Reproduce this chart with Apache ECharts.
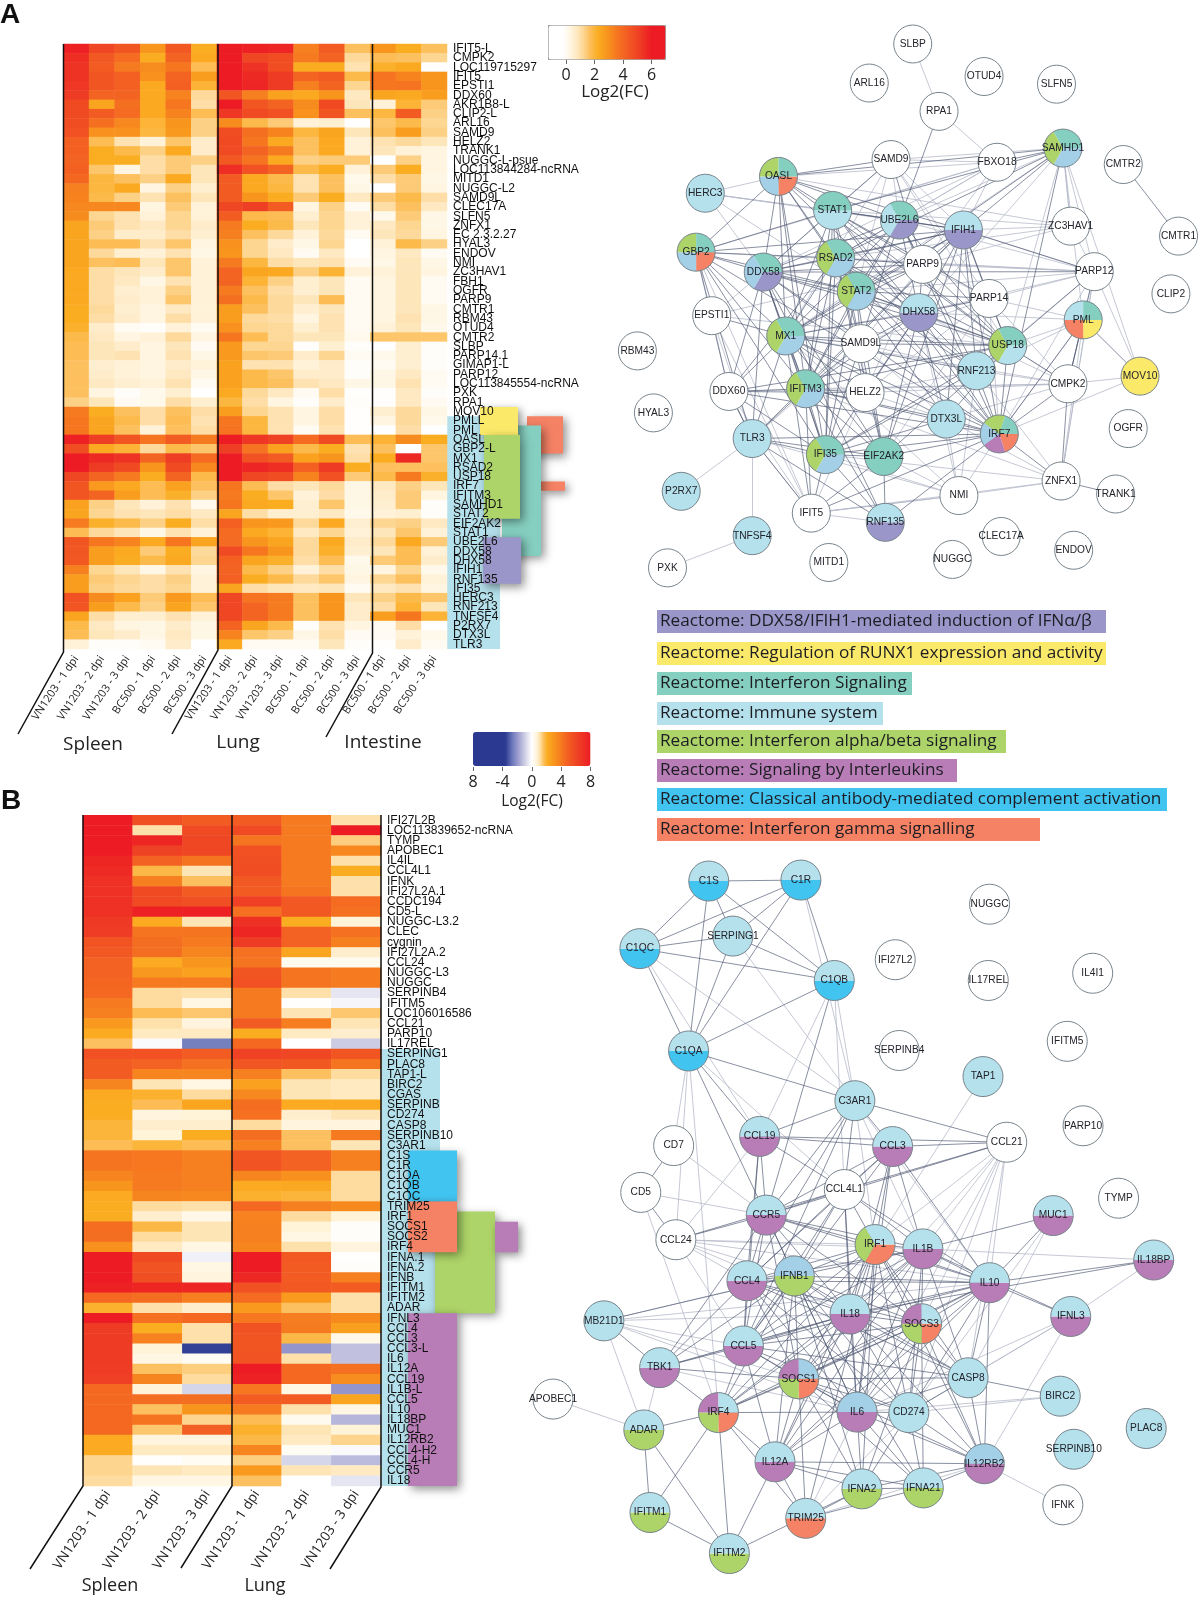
<!DOCTYPE html>
<html>
<head>
<meta charset="utf-8">
<style>html,body{margin:0;padding:0;background:#fff}#c{width:1198px;height:1597px}</style>
<script src="https://cdn.jsdelivr.net/npm/echarts@6/dist/echarts.min.js"></script>
</head>
<body>
<div id="c"></div>
<script>
// ---------- heat map A ----------
const colsA = ['VN1203 - 1 dpi','VN1203 - 2 dpi','VN1203 - 3 dpi','BC500 - 1 dpi','BC500 - 2 dpi','BC500 - 3 dpi','VN1203 - 1 dpi','VN1203 - 2 dpi','VN1203 - 3 dpi','BC500 - 1 dpi','BC500 - 2 dpi','BC500 - 3 dpi','BC500 - 1 dpi','BC500 - 2 dpi','BC500 - 3 dpi'];
const genesA = ['IFIT5-L','CMPK2','LOC119715297','IFIT5','EPSTI1','DDX60','AKR1B8-L','CLIP2-L','ARL16','SAMD9','HELZ2','TRANK1','NUGGC-L-psue','LOC113844284-ncRNA','MITD1','NUGGC-L2','SAMD9L','CLEC17A','SLFN5','ZNFX1','EC 2.3.2.27','HYAL3','ENDOV','NMI','ZC3HAV1','FBH1','OGFR','PARP9','CMTR1','RBM43','OTUD4','CMTR2','SLBP','PARP14.1','GIMAP1-L','PARP12','LOC113845554-ncRNA','PXK','RPA1','MOV10','PMLL','PML','OASL','GBP2-L','MX1','RSAD2','USP18','IRF7','IFITM3','SAMHD1','STAT2','EIF2AK2','STAT1','UBE2L6','DDX58','DHX58','IFIH1','RNF135','IFI35','HERC3','RNF213','TNFSF4','P2RX7','DTX3L','TLR3'];
const valuesA = [
[5.9,5,4.6,3,4.5,2.4,6,5.9,5.8,3.5,4.4,1.8,3,2.4,1.8],
[5.6,4.5,4,2.4,4.2,2.5,6,5,4.8,3.6,4.2,1.3,1.9,1.8,1.4],
[5.5,4.4,3.6,3.2,3.7,1.9,6,5.5,4.8,2.4,2.4,1.1,2.3,2.5,0],
[5.5,4.6,4.3,3.1,4.2,2.8,6,5.7,5.3,4.2,4.4,2,3.8,3.4,3],
[5.4,4.6,4.3,2.5,4.3,2.2,6,5.8,5.3,3.5,4.2,1.4,3.7,3.8,3],
[5.3,4.2,4.2,2.5,3.4,1.3,4.6,3.5,2.7,2.5,3,.9,2.6,2.5,2.8],
[4.9,2.6,3.9,2.5,3.7,1.2,6,4.6,4.2,3.2,4.9,1,.6,2.2,1.6],
[4.9,4.4,4,2.5,3.4,1.9,5.4,4.9,4.7,3.1,4.6,1.8,2.1,4.4,1.5],
[4.8,3.9,3.3,2.2,3,1.5,3.2,2,1.6,.6,.7,0,1.7,2,1.4],
[4.7,3.1,3.1,2.1,2.9,1.5,4.8,3.9,3.4,2.1,2.6,1,1.8,2.8,1.5],
[4.3,1.9,1.1,.6,1.7,.8,4.9,3.7,2.5,1.8,2.5,.6,1.1,1.3,1],
[4.3,2.4,2,1.5,2.5,.8,4.9,4.2,3.6,1.8,2.5,.6,1,.6,.5],
[4.2,2.4,2.4,1.2,1.6,1.5,4.5,3.8,2.5,1.5,1.6,1.6,0,1.5,.5],
[4.3,1.7,.5,1.2,1.6,1,5.6,4.7,4.2,2,2.4,.6,1.6,2.4,.5],
[4.1,2.1,1.8,1.5,2.5,1,4.4,2.5,2,1.1,1.8,.3,1.2,1.6,.4],
[3.5,2.1,2.5,.5,1.5,.7,4.4,2.5,2.1,1.1,1.8,.4,0,1.6,.5],
[3.4,2,1.5,1.1,1.8,1,4.4,3,2.4,1.6,2.4,.9,1.6,2,1.2],
[3.3,3.3,3.3,.5,1.6,.6,5,5.2,4.4,.5,1.5,.2,1.2,1.8,.9],
[3.2,1.4,1.1,.6,1.4,.6,4.4,2,1.9,.7,1.4,.6,.3,1.6,.4],
[2.6,1.6,1.1,.9,1.4,.8,3.6,2.4,2,1,1.4,.6,.9,1.4,.4],
[2.6,1.5,.8,.8,1.2,.7,3.5,1.8,1.3,.6,1.3,.2,1,1.3,.5],
[2.6,1.9,1.9,1.1,1.7,.5,3.1,1.4,.8,.4,1.4,0,.6,2,1.5],
[2.6,1.3,.7,.6,1.1,.4,3,1.4,.9,.2,.9,0,.5,.9,.2],
[2.6,1.8,1.9,1,1.7,.6,3.6,2.1,1.2,1,1.1,.2,.4,1,.4],
[2.5,1.2,1,.8,1.7,.6,4.2,2.6,2.5,1.5,2.2,.6,.6,1,.5],
[2.5,1.2,.9,.4,1.1,.6,4.2,2.2,1.5,.7,1,.2,.5,1,.2],
[2.5,1.2,.7,.6,1.5,.6,3.6,1.8,1.2,.7,1,.2,.5,1,.2],
[2.5,1.2,.8,.6,1.7,.6,3.9,2,1.3,1,1.9,.2,.5,1,.2],
[2.4,1.3,.7,.5,.9,.6,2.8,1.8,1.3,.7,1,.2,.5,1,.4],
[2.4,1.2,.8,.5,1.2,.6,2.8,1.3,1.2,.5,1.1,.2,.5,1.1,.4],
[2.3,.8,.2,.1,.6,.2,3.1,1.4,1.3,.7,1.1,.2,.6,1,.3],
[2,.9,.5,.6,1.3,.5,3.7,1.9,1.3,1,1,.3,1.7,1.7,1.7],
[1.9,1,.8,.5,1,.2,2.9,1.4,1.4,.1,.7,.1,0,.7,.1],
[1.9,1,1.1,.5,1.1,.4,2.9,1.7,1.6,.8,1.4,.2,.3,.7,.1],
[1.8,.7,.6,.5,.8,.6,2.7,1.1,1.1,.6,.8,.1,.2,.7,.1],
[1.8,.8,.6,.5,.9,.4,2.7,2,1.7,.8,.8,.1,.4,.9,.2],
[1.8,.9,.7,.6,1.1,.2,2.7,2,1.8,1.1,.9,.4,.4,1.1,.2],
[1.8,.5,.1,.3,.7,0,2.5,1.3,.9,.2,1.2,.05,.05,.9,.1],
[1.5,1,.2,.3,1.2,.7,2.1,1.2,.5,.1,.8,.1,.05,.9,.2],
[3.6,2.4,1.8,1.2,1.8,1.2,2.8,1.4,1.1,.5,1.2,.05,.7,1.3,.4],
[3.7,2.6,2,1.2,1.9,1.1,3.7,2.1,1.1,.5,1.2,.05,.5,1.3,.3],
[3.7,2.6,1.8,.6,1.8,1.2,3.8,2.1,1.1,.2,1.1,.05,0,1.2,0],
[5.9,5.2,4.6,3.8,4.4,3.6,6,5.4,5.1,4,4.9,1.9,2.2,3.2,2.4],
[4.8,2.5,2.2,1.3,2,1.7,5.2,3.8,2.7,2,2.4,1.1,1.8,0,1.7],
[6,5.7,5.5,4.2,5.2,4,6,4.7,4.4,2.7,3,1.2,2.4,5.7,1.7],
[6,5.3,4.9,3,4.9,3.3,6,5.8,5.6,4.3,5.3,2.4,1.8,1.8,1.8],
[5,4.2,3.6,2.4,4.2,2,6,5,4.8,3.4,4.7,1.6,2,3.6,2.3],
[4.6,2.9,2.5,1.9,2.7,1.8,3.7,1.9,1.2,1,1.3,.4,.9,1.5,1],
[4.6,4.2,2.8,1.9,2.3,1.5,3.6,2.4,1.7,.6,1.2,.4,.8,1.6,.5],
[2.7,1.5,1,.6,1.1,.3,3.7,2.5,2.4,.7,1.7,.4,.7,1.6,.1],
[2.6,1.4,1.1,1,1.2,.9,2.6,1.2,.7,.7,.9,.3,.6,.7,.1],
[3.6,2.3,2,1.5,2.4,1.2,4.3,3,2.9,1.3,2.5,.7,1.4,1.5,.9],
[1.9,1.3,1,.4,1.1,.6,4,2.5,2.2,.9,1.4,.6,1,1.7,.6],
[4.6,3.7,3.4,2.5,3.7,2.6,4,3,2.6,1.3,2.5,.8,1.3,2.5,1.6],
[4.6,2.8,2.5,1.6,2.4,1.3,4.9,3.7,3,1.3,2.3,.7,1,1.9,.6],
[4.5,2.8,2.4,2,2.5,1.4,4.3,2.6,2.3,1.2,1.9,.3,1.6,1.9,.8],
[3.5,1.4,1,.4,1.1,.5,4.2,2,1.5,.6,1.2,.4,.5,1.4,.3],
[2.8,1.6,1.4,1.2,1.5,.6,4.3,2.4,2,1.3,1.7,.5,1.4,1.8,.6],
[2.8,1.5,1.3,1.2,1.4,.6,2.6,1.2,1,.9,1,.2,.9,1.1,.5],
[4.7,3.2,2.7,1.6,2.9,1.9,5,3.8,3.6,1.8,3,1,1.5,2,1.7],
[4.6,2.8,2,1.5,2.6,1.7,5,4.2,3.6,1.8,3,.8,1.2,2.2,1],
[2.6,1.2,.7,.7,1.1,.6,5,4.2,3.6,1.8,3,.8,2.8,3.7,2.2],
[2,.9,.5,.4,.8,.4,4.2,2.6,2,.1,1.1,.5,.2,1.2,0],
[1.9,1,.8,.4,.9,.4,3.4,1.7,1.5,.4,1.2,.2,.2,.6,.3],
[.6,.1,.1,.2,.8,0,2.5,.2,.2,.2,1,.1,.05,.8,.2]
];
// ---------- heat map B ----------
const colsB = ['VN1203 - 1 dpi','VN1203 - 2 dpi','VN1203 - 3 dpi','VN1203 - 1 dpi','VN1203 - 2 dpi','VN1203 - 3 dpi'];
const genesB = ['IFI27L2B','LOC113839652-ncRNA','TYMP','APOBEC1','IL4IL','CCL4L1','IFNK','IFI27L2A.1','CCDC194','CD5-L','NUGGC-L3.2','CLEC','cygnin','IFI27L2A.2','CCL24','NUGGC-L3','NUGGC','SERPINB4','IFITM5','LOC106016586','CCL21','PARP10','IL17REL','SERPING1','PLAC8','TAP1-L','BIRC2','CGAS','SERPINB','CD274','CASP8','SERPINB10','C3AR1','C1S','C1R','C1QA','C1QB','C1QC','TRIM25','IRF1','SOCS1','SOCS2','IRF4','IFNA.1','IFNA.2','IFNB','IFITM1','IFITM2','ADAR','IFNL3','CCL4','CCL3','CCL3-L','IL6','IL12A','CCL19','IL1B-L','CCL5','IL10','IL18BP','MUC1','IL12RB2','CCL4-H2','CCL4-H','CCR5','IL18'];
const valuesB = [
[8,5.6,5,5,4,1.1],[8,1.1,5.8,5.8,4,8],[8,7.5,6,4.2,4,1.4],[8,6.2,6,5.5,4,3.5],[7.5,4.8,4.2,5.6,4,1.1],[7.3,1.8,1,5.7,4,2.1],
[7,3.8,1.6,5.2,4,1.1],[7,5.8,5,5,4.2,1.1],[7,5.8,5.6,6.3,5.2,4.5],[7,7.8,7.8,4.3,5.2,4.3],[6.6,2.2,1,7,2.1,.7],[6.4,4.2,4.2,7.5,4.8,4.3],
[5.4,4.4,4,6.5,4.8,3.8],[5.2,4.4,3.6,4.3,2.4,.8],[4.8,2.2,3,4.2,.3,.3],[4.8,2.9,2.5,5.3,4.2,4],[4.7,4,4,5.5,4.2,4],[4.6,1.2,1.1,4,1.1,-.5],
[4,1.2,.5,4,.05,-.2],[3.8,1.7,1.5,4,1,1.5],[2.8,1.1,.6,5,3.9,1],[2.2,.9,.9,2.1,.9,.8],[1.6,-.1,-2.5,4.6,0,-1],
[5.5,5.5,5,6.2,6,5.3],[5,4.8,4.3,5.3,5.2,4.2],[5,3.6,3.6,3.8,1.6,1.2],[3.6,1,.5,2.5,1,.9],[2.2,2,1.2,3.5,1,.9],[2.1,1.7,2.4,4.4,2.2,2.2],
[2.1,.6,.7,4.3,.8,1],[1.9,.8,.8,1.2,.6,.6],[1.9,.7,2.1,4.4,1.6,4],[1.7,1.9,1.7,3.8,1.6,1],
[4.2,4.1,3.8,5.3,4.8,3.8],[4.2,4.1,3.8,5.4,4.8,3.8],[3.6,4,3.8,3.6,3.2,1.2],[3,4,3.8,2.2,2.3,1.2],[2.2,3.6,3.5,2,1.9,1.2],
[2.1,1.2,1.1,4.6,3.8,3.4],[2.1,.8,.4,3.7,1.2,.7],[4.4,1.8,1,3.8,.7,.1],[4.4,1.2,1,3.8,.5,.1],[3.2,.9,.5,3.6,1.1,.6],
[8,5.8,-.3,8,5.2,.05],[8,5.4,.5,8,5,.1],[8,5.6,.6,7.4,5,3.8],[7.8,7.5,7.5,5.5,5.2,5],[4.6,4.4,3.8,4.5,2.8,1.1],[2,1.1,.8,2.8,1.6,1.1],
[8,4.3,4.6,4.1,3.9,3.4],[6.5,2.1,1.1,5.5,4,2.6],[6.5,3.7,1.1,5.3,1.8,.4],[6.5,.7,-3.5,5.3,-2,-1.2],[6.5,.5,.2,5.4,1.1,-1.2],[6.4,1.6,1.4,8,4.6,4.3],
[6.3,3.6,1.2,7.8,4.6,3.3],[4.6,.7,-.8,4.1,.5,-2],[4.6,4.4,4.4,5,5,2.4],[4.6,1.6,3,4,1.1,.5],[4.6,4.2,1.3,1.7,.3,-1.4],[4.6,1.5,4.9,2,1,.7],
[2.2,.6,.6,1.8,.9,1.3],[2.2,.9,.9,3.6,.2,-.1],[1.3,.05,.2,1.4,-.8,-1.3],[1.3,1,.9,2.8,1,.9],[1.2,.5,.5,1.6,0,-.5]
];
// ---------- pathways ----------
const legendTexts = ['Reactome: DDX58/IFIH1-mediated induction of IFNα/β','Reactome: Regulation of RUNX1 expression and activity','Reactome: Interferon Signaling','Reactome: Immune system','Reactome: Interferon alpha/beta signaling','Reactome: Signaling by Interleukins','Reactome: Classical antibody-mediated complement activation','Reactome: Interferon gamma signalling'];
const C = {P:'#9b96c9',Y:'#fbe969',T:'#85cfc0',L:'#b5e1ec',G:'#add468',M:'#b87cb6',K:'#42c4f1',S:'#f58265',B:'#a3d0e6',W:'#ffffff'};
const legendKeys = ['P','Y','T','L','G','M','K','S'];
const blocksA = [['PMLL','TLR3','L'],['PMLL','GBP2-L','S'],['IRF7','IRF7','S'],['PML','DDX58','T'],['MOV10','PML','Y'],['OASL','STAT2','G'],['UBE2L6','RNF135','P']];
const blocksB = [['SERPING1','IL18','L'],['IRF1','ADAR','G'],['SOCS1','IRF4','M'],['C1S','C1QC','K'],['TRIM25','IRF4','S'],['IFNL3','IL18','M']];
// ---------- networks: node name -> pathway slices (clockwise from 3 o'clock); others are white ----------
const slicesA = {OASL:'SBGT',GBP2:'SBGT',HERC3:'L',STAT1:'LT',UBE2L6:'PLT',IFIH1:'PL',RSAD2:'BGT',DDX58:'PBT',STAT2:'BGT',MX1:'BGT',IFITM3:'BGT',IFI35:'BGT',SAMHD1:'BGT',USP18:'LGT',DHX58:'PL',RNF135:'PL',RNF213:'L',DTX3L:'L',TLR3:'L',P2RX7:'L',TNFSF4:'L',EIF2AK2:'T',PML:'YSLT',MOV10:'Y',IRF7:'SMBGT'};
const slicesB = {C1S:'KL',C1R:'KL',C1QC:'KL',C1QB:'KL',C1QA:'KL',SERPING1:'L',TAP1:'L',C3AR1:'L',CCL19:'ML',CCL3:'ML',CCR5:'ML',CCL4:'ML',IL18:'ML',CCL5:'ML',TBK1:'ML',IL1B:'ML',IL10:'ML',MUC1:'ML',IL18BP:'ML',IFNL3:'ML',IL12A:'ML',IL6:'MB',IL12RB2:'MB',IFNB1:'GB',IRF1:'SGL',SOCS3:'SGML',SOCS1:'SGMB',IRF4:'SGML',ADAR:'GL',IFITM1:'GL',IFITM2:'GL',IFNA2:'GL',IFNA21:'GL',TRIM25:'SL',MB21D1:'L',CASP8:'L',CD274:'L',BIRC2:'L',PLAC8:'L',SERPINB10:'L'};
const strongA = {
OASL:'STAT1 DDX58 RSAD2 MX1 IFITM3 STAT2 UBE2L6 IFIH1 GBP2 IFI35 DHX58 SAMHD1 USP18',
GBP2:'DDX58 RSAD2 MX1 IFITM3 IFIH1 STAT1 STAT2 TLR3 IFI35 IRF7',
DDX58:'RSAD2 STAT1 STAT2 MX1 IFITM3 IFIH1 UBE2L6 DHX58 IRF7 TLR3 USP18 IFI35 EIF2AK2 DDX60 RNF135 PARP9 SAMD9L PARP12',
STAT1:'RSAD2 STAT2 MX1 UBE2L6 IFIH1 IRF7 DHX58 IFITM3 USP18 IFI35 PARP9 EIF2AK2 SAMHD1 PARP14',
UBE2L6:'RSAD2 STAT2 IFIH1 DHX58 MX1 USP18 IRF7 IFITM3 RNF213 PARP9 IFI35 RPA1',
IFIH1:'RSAD2 STAT2 MX1 DHX58 USP18 IRF7 RNF213 PARP9 PARP14 PARP12 TLR3 SAMHD1 DTX3L EIF2AK2 IFITM3',
RSAD2:'STAT2 MX1 DHX58 USP18 IRF7 IFITM3 PARP9 RNF213 IFI35 SAMD9L EIF2AK2 DDX60 HELZ2',
STAT2:'MX1 DHX58 USP18 IRF7 IFITM3 IFI35 PARP9 PARP14 RNF213 EIF2AK2 DTX3L SAMD9L',
MX1:'USP18 IRF7 IFITM3 IFI35 TLR3 DDX60 SAMD9L HELZ2 EIF2AK2 DHX58 RNF213 DTX3L EPSTI1 PARP9 IFIT5',
DHX58:'USP18 IRF7 PARP9 RNF213 IFI35 EIF2AK2 DTX3L PARP14 SAMD9L IFITM3 HELZ2',
USP18:'IRF7 RNF213 DTX3L IFITM3 IFI35 PARP14 PARP12 CMPK2 PARP9 SAMD9L EIF2AK2 DDX60',
IRF7:'RNF213 IFITM3 IFI35 TLR3 EIF2AK2 DTX3L CMPK2 ZNFX1 PML RNF135 DDX60 IFIT5',
IFITM3:'IFI35 TLR3 DDX60 EIF2AK2 SAMD9L HELZ2 IFIT5 DTX3L RNF135',
IFI35:'EIF2AK2 TLR3 DDX60 IFIT5 DTX3L RNF213 RNF135',
TLR3:'DDX60 EIF2AK2 IFIT5 RNF135',
SAMHD1:'FBXO18 RSAD2 STAT2 IRF7',
ZNFX1:'TRANK1 CMPK2',CMPK2:'PARP12 PML',CMTR2:'CMTR1',PML:'MOV10',DDX60:'GBP2 HELZ2 TLR3',EIF2AK2:'RNF135 IFIT5',SAMD9:'OASL STAT1 PARP9'
};
const weakA = {
SLBP:'RPA1',RPA1:'FBXO18',
SAMD9:'SAMHD1 FBXO18 UBE2L6 IFIH1 STAT2 PARP14 USP18 DDX58 MX1',
FBXO18:'OASL IFIH1 PARP9 GBP2 DDX58 UBE2L6 STAT1 RSAD2',
ZC3HAV1:'IFIH1 PARP9 PARP12 RSAD2 SAMHD1 STAT1 OASL',
SAMHD1:'PARP12 ZC3HAV1 MOV10 PML USP18 UBE2L6 DHX58 MX1',
PARP12:'GBP2 IFIH1 RSAD2 STAT2 DHX58 UBE2L6 PARP9 PARP14 IRF7 PML MOV10 RNF213 ZNFX1',
PARP14:'PARP9 MX1 IRF7 RNF213 SAMD9L EIF2AK2 PML',
PML:'USP18 CMPK2 IRF7 RNF213 ZNFX1 DHX58',
MOV10:'CMPK2 IRF7',
CMPK2:'RNF213 USP18 DTX3L DHX58 MX1 DDX60 IFITM3 HELZ2 PARP14',
ZNFX1:'PARP12 IFIT5 NMI RNF213 DTX3L IFI35 IFITM3',
NMI:'DTX3L IFI35 IRF7 EIF2AK2 DHX58 IFIT5 RNF213 MX1',
IFIT5:'TLR3 DDX60 NMI GBP2 RNF135 HELZ2',
HERC3:'OASL STAT1 UBE2L6 IFIH1 DDX58 STAT2',
EPSTI1:'GBP2 DDX58 TLR3 DDX60 PARP9 USP18 IFIT5',
TLR3:'P2RX7 TNFSF4 NMI SAMD9L',TNFSF4:'PXK',
HELZ2:'PARP9 DTX3L PARP14 RNF213',SAMD9L:'PARP9 DTX3L RNF213 HELZ2'
};
const strongB = {
C1S:'C1R C1QC SERPING1 C1QA C1QB',C1R:'C1QC SERPING1 C1QA C1QB',C1QC:'SERPING1 C1QA C1QB',C1QA:'SERPING1 C1QB C3AR1 CCL19 CCR5',C1QB:'SERPING1 CCR5',
C3AR1:'CCL19 CCL3 CCL4L1 CCR5 CCL4 CCL5 CCL21',CCL19:'CCL3 CCL21 CCL4L1 CCR5 CCL4 CCL5',CCL3:'CCL21 CCL4L1 CCR5 CCL4 CCL5 IL1B IL10 IL6 IL18 IRF1',CCL21:'CCL4L1 CCR5',
CCL4L1:'CCR5 CCL4 CCL5 IL10 IL1B IRF1 CCL24 IL18 IL6 IFNB1',CCR5:'CCL4 CCL5 IL10 IL1B IL6 IRF1 IL18 CCL24 IFNB1 SOCS3 TBK1 SOCS1',
CCL4:'IFNB1 CCL5 IL18 IL1B IL10 IL6 IRF1 SOCS3 SOCS1 CASP8 CD274 TBK1',IFNB1:'IRF1 IL1B IL10 IL18 CCL5 SOCS3 SOCS1 IRF4 IL6 CD274 TBK1 IL12A MB21D1 IFNA2 IFNA21 CASP8',
IRF1:'IL1B IL10 IL18 SOCS3 SOCS1 IRF4 IL6 CD274 CASP8 CCL5 IL12A IL12RB2 IFNA2 TRIM25',IL1B:'IL10 IL18 SOCS3 SOCS1 IL6 CD274 CASP8 CCL5 IL12A MUC1 IRF4 IFNL3',
IL10:'IL18 SOCS3 SOCS1 IL6 CD274 CASP8 CCL5 IL12A IL12RB2 MUC1 IL18BP IFNL3 IRF4',IL18:'SOCS3 SOCS1 IL6 CD274 CASP8 CCL5 IL12A IL12RB2 IL18BP TBK1 IRF4',
SOCS3:'SOCS1 IL6 CD274 CASP8 CCL5 IL12A IL12RB2 IRF4 IFNA2 IFNA21',CCL5:'SOCS1 IL6 TBK1 CD274 IRF4 IL12A CASP8',SOCS1:'IRF4 IL6 CD274 IL12A IL12RB2 IFNA2 IFNA21 TRIM25 CASP8 TBK1',
IL6:'CD274 CASP8 IL12A IL12RB2 IRF4 IFNA2 IFNA21',CD274:'CASP8 IL12RB2 IFNA2 IFNA21',CASP8:'IL12RB2 BIRC2',IRF4:'ADAR IFITM1 IFITM2 IL12A TRIM25 TBK1',ADAR:'IFITM1 IFITM2',IFITM1:'IFITM2',
IL12A:'IL12RB2 IFNA2 TRIM25 IFNA21 IFITM2',IFNA2:'IFNA21 TRIM25 IFITM2 IL12RB2',IFNA21:'IL12RB2 TRIM25',MB21D1:'TBK1',CD7:'CD5',CD5:'CCL24'
};
const weakB = {
CD7:'CCR5 C1QA',CD5:'CCR5 IRF4',C1QA:'CCL24 IRF4 CCL4L1',CCL24:'IL10 IFNB1 CCL4 CCL5 IRF1 IL1B CCL19 IL18',MB21D1:'IL18 IL10 IFNB1 CCL5 ADAR IL6 SOCS1',APOBEC1:'ADAR',IFNK:'IL12RB2',
IL18BP:'IL1B IFNL3',TAP1:'IRF1',SERPING1:'C3AR1',C1R:'C3AR1',C1QC:'C3AR1 CCL19',C1QB:'C3AR1 CCL19 CCL4L1',IFNL3:'IL6 CD274 IL12RB2 CASP8',BIRC2:'IL6 CD274',MUC1:'CD274 CASP8',
CCL21:'IL6 IL18 IL10 CD274 CASP8 SOCS3 IL1B IRF1',TBK1:'IL6 ADAR IL18',C3AR1:'IL10 IL1B IRF1',TRIM25:'IL6 CD274 IL12RB2'
};
// ---------- layout (not data): node placement in each network's plane, panel geometry ----------
const layoutA = {SLBP:[820,115],ARL16:[706,217],OTUD4:[1007,200],SLFN5:[1197,220],RPA1:[889,291],SAMHD1:[1214,387],SAMD9:[763,417],FBXO18:[1041,424],CMTR2:[1372,430],OASL:[468,461],HERC3:[276,505],STAT1:[610,550],UBE2L6:[785,575],IFIH1:[953,601],ZC3HAV1:[1234,591],CMTR1:[1517,617],GBP2:[252,659],RSAD2:[618,674],PARP9:[846,691],DDX58:[428,711],PARP12:[1296,710],CLIP2:[1497,768],STAT2:[672,761],PARP14:[1020,780],DHX58:[836,817],EPSTI1:[293,825],PML:[1267,836],MX1:[487,878],SAMD9L:[684,898],USP18:[1069,903],RBM43:[98,917],RNF213:[987,969],CMPK2:[1227,1003],MOV10:[1416,983],IFITM3:[539,1016],DDX60:[338,1023],HELZ2:[695,1026],HYAL3:[140,1079],DTX3L:[908,1095],OGFR:[1385,1120],IRF7:[1047,1134],TLR3:[399,1146],IFI35:[591,1188],EIF2AK2:[744,1193],ZNFX1:[1209,1257],P2RX7:[213,1284],TRANK1:[1352,1291],NMI:[941,1295],IFIT5:[554,1341],RNF135:[748,1365],TNFSF4:[399,1400],CLEC17A:[1052,1402],ENDOV:[1242,1438],NUGGC:[924,1462],MITD1:[600,1470],PXK:[177,1484]};
const layoutB = {C1S:[453,85],C1R:[663,83],SERPING1:[508,199],C1QC:[296,225],C1QB:[739,291],NUGGC:[1093,133],IFI27L2:[878,248],IL17REL:[1090,291],IL4I1:[1328,276],IFITM5:[1270,417],SERPINB4:[887,436],C1QA:[407,437],TAP1:[1078,490],C3AR1:[786,540],PARP10:[1306,592],CCL19:[569,614],CCL3:[872,635],CCL21:[1132,626],CD7:[373,633],CCL4L1:[762,724],CD5:[298,730],TYMP:[1387,742],CCR5:[584,777],MUC1:[1238,778],CCL24:[378,828],IRF1:[832,838],IL1B:[941,847],IL18BP:[1467,870],IFNB1:[648,903],CCL4:[540,913],IL10:[1093,917],IL18:[775,982],IFNL3:[1278,987],MB21D1:[214,996],SOCS3:[938,1002],CCL5:[532,1048],TBK1:[341,1093],CASP8:[1044,1114],SOCS1:[658,1116],BIRC2:[1254,1152],APOBEC1:[98,1158],IRF4:[475,1186],IL6:[791,1185],CD274:[909,1186],PLAC8:[1450,1219],ADAR:[305,1222],SERPINB10:[1285,1262],IL12A:[604,1288],IL12RB2:[1081,1292],IFNA2:[802,1344],IFNA21:[942,1342],IFNK:[1260,1377],IFITM1:[319,1393],TRIM25:[674,1405],IFITM2:[500,1478]};
const blockXA = [[447,500],[527,563],[541,565],[502,541],[480,518],[484,520],[483,521]];
const blockXB = [[381,440],[435,495],[495,518],[408,457],[408,457],[408,457]];

// ---------- colour ramps ----------
const hex = h => [1,3,5].map(i => parseInt(h.substr(i,2),16));
function ramp(stops, n, lo, hi){
  const out = [];
  for (let i=0;i<=n;i++){
    const v = lo+(hi-lo)*i/n; let k=0;
    while (k<stops.length-2 && v>stops[k+1][0]) k++;
    const a=stops[k], b=stops[k+1], t=Math.max(0,Math.min(1,(v-a[0])/(b[0]-a[0])));
    const ca=hex(a[1]), cb=hex(b[1]);
    out.push('rgb('+ca.map((c,j)=>Math.round(c+(cb[j]-c)*t)).join(',')+')');
  }
  return out;
}
const rampA = ramp([[-1,'#ffffff'],[0,'#ffffff'],[.5,'#fff5e0'],[1,'#fee6bb'],[1.4,'#fdd692'],[1.8,'#fdc05e'],[2.4,'#fbad22'],[3,'#f8951d'],[3.6,'#f67a20'],[4.4,'#f25c22'],[5.3,'#ee3b24'],[6,'#ed1c24'],[7,'#ed1c24']],160,-1,7);
const rampB = ramp([[-8,'#2b3990'],[-3.6,'#2b3990'],[-2.6,'#6f7cbd'],[-2,'#9496cb'],[-1,'#ccccE4'],[-.3,'#f0f0f8'],[0,'#ffffff'],[.7,'#fff3d8'],[1.2,'#fedc9f'],[1.6,'#fdc060'],[2.1,'#fbad22'],[3,'#f8951d'],[4,'#f67a20'],[5,'#f25c22'],[6.5,'#ee3b24'],[8,'#ed1c24']],320,-8,8);

// ---------- builders ----------
const heatData = rows => rows.flatMap((r,y)=>r.map((v,x)=>[x,y,v]));
function edgeList(map, style){
  const out=[];
  for (const s in map) map[s].split(' ').forEach(t=>out.push({source:s,target:t,lineStyle:style}));
  return out;
}
const strongStyle={color:'#4d5672',width:1,opacity:.66};
const weakStyle={color:'#b4b8c8',width:.9,opacity:.85};
function graphSeries(layout,strong,weak,gi){
  return {type:'graph',coordinateSystem:'cartesian2d',xAxisIndex:gi,yAxisIndex:gi,layout:'none',silent:true,z:2,
    symbolSize:1,itemStyle:{opacity:0},label:{show:false},animation:false,
    data:Object.keys(layout).map(n=>({name:n,value:layout[n]})),
    links:edgeList(weak,weakStyle).concat(edgeList(strong,strongStyle))};
}
function nodeSeries(layout,slices,gi,R){
  const names=Object.keys(layout);
  return {type:'custom',coordinateSystem:'cartesian2d',xAxisIndex:gi,yAxisIndex:gi,z:3,silent:true,clip:false,animation:false,
    data:names.map(n=>layout[n]),encode:{x:0,y:1},
    renderItem(p,api){
      const [cx,cy]=api.coord([api.value(0),api.value(1)]);
      const name=names[p.dataIndex], sl=(slices[name]||'W').split('');
      const ch=[];
      const step=2*Math.PI/sl.length;
      if(sl.length===1) ch.push({type:'circle',shape:{cx,cy,r:R},style:{fill:C[sl[0]]}});
      else sl.forEach((k,i)=>ch.push({type:'sector',shape:{cx,cy,r:R,r0:0,startAngle:i*step,endAngle:(i+1)*step,clockwise:true},style:{fill:C[k]}}));
      ch.push({type:'circle',shape:{cx,cy,r:R},style:{fill:'none',stroke:'#78848c',lineWidth:1}});
      ch.push({type:'text',style:{x:cx,y:cy,text:name,align:'center',verticalAlign:'middle',font:'10.2px "Liberation Sans"',fill:'#23232b'}});
      return {type:'group',children:ch};
    }};
}
function blockSeries(blocks,genes,xs,gi){
  return {type:'custom',coordinateSystem:'cartesian2d',xAxisIndex:gi,yAxisIndex:gi,z:1,silent:true,clip:false,animation:false,
    data:blocks.map(b=>[0,genes.indexOf(b[0]),genes.indexOf(b[1])]),encode:{x:0,y:[1,2]},
    renderItem(p,api){
      const h=api.size([0,1])[1];
      const y0=api.coord([0,api.value(1)])[1]-h/2, y1=api.coord([0,api.value(2)])[1]+h/2;
      const [x0,x1]=xs[p.dataIndex], k=blocks[p.dataIndex][2];
      const shadow=(p.dataIndex===0)?{}:{shadowBlur:9,shadowColor:'rgba(0,0,0,.45)',shadowOffsetX:3,shadowOffsetY:3};
      return {type:'rect',shape:{x:x0,y:y0,width:x1-x0,height:y1-y0},style:Object.assign({fill:C[k]},shadow)};
    }};
}
const hidden={show:false};
const catX=(d,gi,fs,m)=>({type:'category',gridIndex:gi,data:d,axisLine:hidden,axisTick:hidden,splitLine:hidden,
  axisLabel:{interval:0,rotate:56,margin:m,fontSize:fs,fontFamily:'Open Sans',color:'#222'}});
const catY=(d,gi,fs)=>({type:'category',gridIndex:gi,data:d,inverse:true,position:'right',z:6,axisLine:hidden,axisTick:hidden,splitLine:hidden,
  axisLabel:{interval:0,margin:6,fontSize:fs,fontFamily:'Liberation Sans',color:'#111'}});
const planeX=(gi)=>({type:'value',gridIndex:gi,min:0,max:1568,show:false});
const planeY=(gi)=>({type:'value',gridIndex:gi,min:0,max:1568,inverse:true,show:false});
const tickX=(gi,min,max,iv,vals,fmt)=>({type:'value',gridIndex:gi,min,max,interval:iv,axisLine:hidden,splitLine:hidden,
  axisTick:{show:true,length:4,lineStyle:{color:'#666'},customValues:vals},axisLabel:{margin:7,fontSize:16,fontFamily:'Open Sans',color:'#222',formatter:fmt,customValues:vals}});
const blankY=gi=>({type:'value',gridIndex:gi,show:false});

// ---------- decorations ----------
const poly=pts=>({type:'polyline',shape:{points:pts},style:{stroke:'#111',lineWidth:1.5,fill:null},silent:true,z:20});
const txt=(x,y,t,fs,o)=>({type:'text',x,y,silent:true,z:20,style:Object.assign({text:t,fontSize:fs,fontFamily:'Open Sans',fill:'#222',textAlign:'center',textVerticalAlign:'middle'},o||{})});
const legendRows=[[610,449],[642,449],[672,255],[702,226],[730,349],[759,300],[788,510],[818,383]];
const graphicEls=[
  poly([[63.5,44],[63.5,652],[18,734]]),poly([[218,44],[218,650],[172,734]]),poly([[372.5,44],[372.5,653],[326,737]]),
  poly([[83,815],[83,1486],[30,1569]]),poly([[232,815],[232,1486],[181,1568]]),poly([[381,815],[381,1487],[330,1569]]),
  txt(93,745,'Spleen',19),txt(238,743,'Lung',19),txt(383,743,'Intestine',19),
  txt(110,1586,'Spleen',18),txt(265,1586,'Lung',18),
  txt(615,92,'Log2(FC)',17),txt(532,802,'Log2(FC)',15.5),
  txt(10,15,'A',28,{fontFamily:'Liberation Sans',fontWeight:'bold',fill:'#111'}),
  txt(11,801,'B',28,{fontFamily:'Liberation Sans',fontWeight:'bold',fill:'#111'})
];
legendTexts.forEach((t,i)=>{
  const [y,w]=legendRows[i];
  graphicEls.push({type:'rect',silent:true,z:18,shape:{x:657,y,width:w,height:23},style:{fill:C[legendKeys[i]]}});
  graphicEls.push(txt(660,y+11.5,t,17.2,{textAlign:'left',fill:'#1d1d24'}));
});

// ---------- chart ----------
const chart=echarts.init(document.getElementById('c'),null,{width:1198,height:1597});
chart.setOption({
  animation:false,backgroundColor:'#fff',
  grid:[
    {left:63.5,top:44,width:383.5,height:605},
    {left:83,top:815.3,width:298,height:670.6},
    {left:600,top:0,width:598,height:600},
    {left:510,top:840,width:688,height:757},
    {left:566,top:59,width:99.75,height:1},
    {left:473,top:766,width:117.5,height:1}
  ],
  xAxis:[catX(colsA,0,11,8),catX(colsB,1,13.5,6),planeX(2),planeX(3),tickX(4,0,7,2,[0,2,4,6],v=>String(v)),tickX(5,-8,8,4,[-8,-4,0,4,8],v=>Number(v)===-8?'8':String(v))],
  yAxis:[catY(genesA,0,12),catY(genesB,1,12),planeY(2),planeY(3),blankY(4),blankY(5)],
  visualMap:[
    {type:'continuous',seriesIndex:0,dimension:2,min:-1,max:7,orient:'horizontal',left:548,top:25,itemWidth:34,itemHeight:117,text:['',''],showLabel:false,padding:0,calculable:false,hoverLink:false,borderColor:'#999',borderWidth:1,inRange:{color:rampA}},
    {type:'continuous',seriesIndex:1,dimension:2,min:-8,max:8,orient:'horizontal',left:473,top:732,itemWidth:34,itemHeight:117.5,text:['',''],showLabel:false,padding:0,calculable:false,hoverLink:false,inRange:{color:rampB}}
  ],
  series:[
    {type:'heatmap',xAxisIndex:0,yAxisIndex:0,data:heatData(valuesA),silent:true,z:2,progressive:0,itemStyle:{borderWidth:0}},
    {type:'heatmap',xAxisIndex:1,yAxisIndex:1,data:heatData(valuesB),silent:true,z:2,progressive:0,itemStyle:{borderWidth:0}},
    blockSeries(blocksA,genesA,blockXA,0),
    blockSeries(blocksB,genesB,blockXB,1),
    graphSeries(layoutA,strongA,weakA,2),
    graphSeries(layoutB,strongB,weakB,3),
    nodeSeries(layoutA,slicesA,2,19),
    nodeSeries(layoutB,slicesB,3,20)
  ],
  graphic:{elements:graphicEls}
});
</script>
</body>
</html>
